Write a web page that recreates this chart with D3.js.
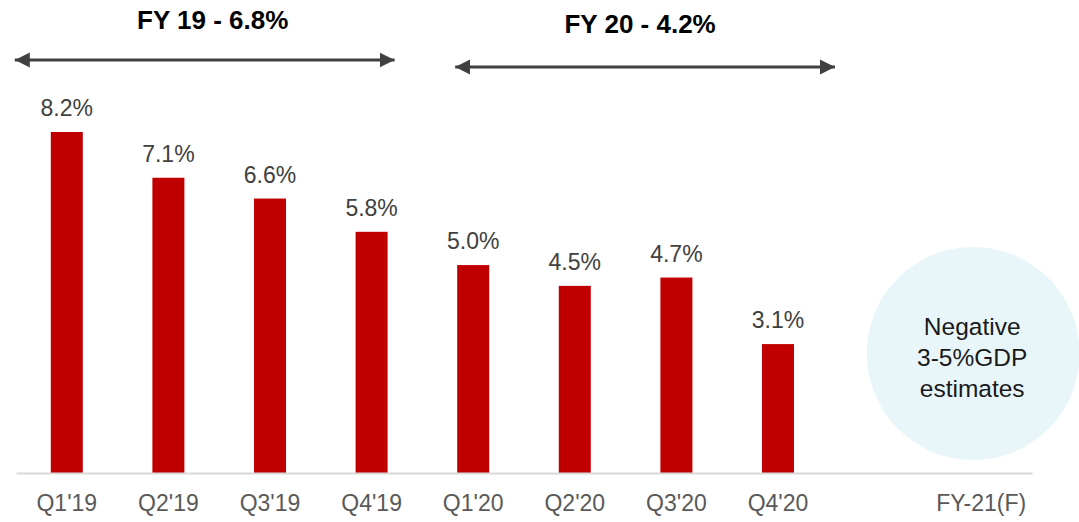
<!DOCTYPE html>
<html>
<head>
<meta charset="utf-8">
<script src="https://cdn.jsdelivr.net/npm/d3@7"></script>
<style>
  html, body { margin: 0; padding: 0; background: #fff; }
  svg { display: block; font-family: "Liberation Sans", Arial, sans-serif; }
</style>
</head>
<body>
<svg id="chart" width="1079" height="522"></svg>
<script>
const categories = ["Q1'19", "Q2'19", "Q3'19", "Q4'19", "Q1'20", "Q2'20", "Q3'20", "Q4'20", "", "FY-21(F)"];
const values = [8.2, 7.1, 6.6, 5.8, 5.0, 4.5, 4.7, 3.1, null, null];
const periodLabels = ["FY 19 - 6.8%", "FY 20 - 4.2%"];
const periodStart = ["Q1'19", "Q1'20"];
const periodEnd = ["Q4'19", "Q4'20"];
const forecastText = ["Negative", "3-5%GDP", "estimates"];

const svg = d3.select("#chart");
const baseY = 473;

const x = d3.scaleBand()
  .domain(categories.map((c, i) => i))
  .range([16, 1032])
  .paddingInner(0.685)
  .paddingOuter(0.3425);

const y = d3.scaleLinear().domain([0, 8.2]).range([baseY, 132]);

// forecast circle
const fIdx = categories.indexOf("FY-21(F)");
const cx = x(fIdx) + x.bandwidth() / 2 - 8;
svg.append("circle")
  .attr("cx", cx).attr("cy", 353.5).attr("r", 106.5)
  .attr("fill", "#e8f6fa");
svg.append("g").selectAll("text").data(forecastText).join("text")
  .attr("x", cx - 1).attr("y", (d, i) => 335 + i * 31)
  .attr("text-anchor", "middle")
  .attr("font-size", 24.5).attr("fill", "#1a1a1a")
  .text(d => d);

// bars
const data = values.map((v, i) => ({ i, v })).filter(d => d.v != null);
svg.append("g").selectAll("rect").data(data).join("rect")
  .attr("x", d => x(d.i)).attr("width", x.bandwidth())
  .attr("y", d => y(d.v)).attr("height", d => y(0) - y(d.v))
  .attr("fill", "#c00000");

// value labels
svg.append("g").selectAll("text").data(data).join("text")
  .attr("x", d => x(d.i) + x.bandwidth() / 2)
  .attr("y", d => y(d.v) - 16)
  .attr("text-anchor", "middle")
  .attr("font-size", 23).attr("fill", "#404040")
  .text(d => d.v.toFixed(1) + "%");

// axis
const axis = d3.axisBottom(x).tickSize(0).tickPadding(0).tickFormat(i => categories[i]);
const gAxis = svg.append("g").attr("transform", `translate(0,${baseY})`).call(axis);
gAxis.select(".domain").attr("stroke", "#d9d9d9").attr("stroke-width", 2);
gAxis.selectAll(".tick text")
  .attr("dy", null).attr("y", 38)
  .attr("font-size", 23).attr("fill", "#595959")
  .attr("font-family", "'Liberation Sans', Arial, sans-serif");

// period arrows
const defs = svg.append("defs");
["start", "end"].forEach(k => {
  defs.append("marker")
    .attr("id", "arr-" + k)
    .attr("viewBox", "0 0 10 10")
    .attr("refX", k === "end" ? 10 : 0).attr("refY", 5)
    .attr("markerWidth", 15).attr("markerHeight", 16)
    .attr("markerUnits", "userSpaceOnUse")
    .attr("orient", "auto")
    .append("path")
    .attr("d", k === "end" ? "M0,0 L10,5 L0,10 Z" : "M10,0 L0,5 L10,10 Z")
    .attr("fill", "#404040");
});

const arrowY = [60, 67];
const titleY = [29, 33];
const startOff = [-36, -2];
const endOff = [7, 41];
const titleOff = [8, -5];
periodLabels.forEach((lab, k) => {
  const i0 = categories.indexOf(periodStart[k]);
  const i1 = categories.indexOf(periodEnd[k]);
  const x0 = x(i0) + startOff[k];
  const x1 = x(i1) + x.bandwidth() + endOff[k];
  svg.append("line")
    .attr("x1", x0).attr("x2", x1)
    .attr("y1", arrowY[k]).attr("y2", arrowY[k])
    .attr("stroke", "#404040").attr("stroke-width", 3)
    .attr("marker-start", "url(#arr-start)")
    .attr("marker-end", "url(#arr-end)");
  svg.append("text")
    .attr("x", (x0 + x1) / 2 + titleOff[k]).attr("y", titleY[k])
    .attr("text-anchor", "middle")
    .attr("font-size", 26).attr("font-weight", "bold").attr("fill", "#000")
    .text(lab);
});
</script>
</body>
</html>
